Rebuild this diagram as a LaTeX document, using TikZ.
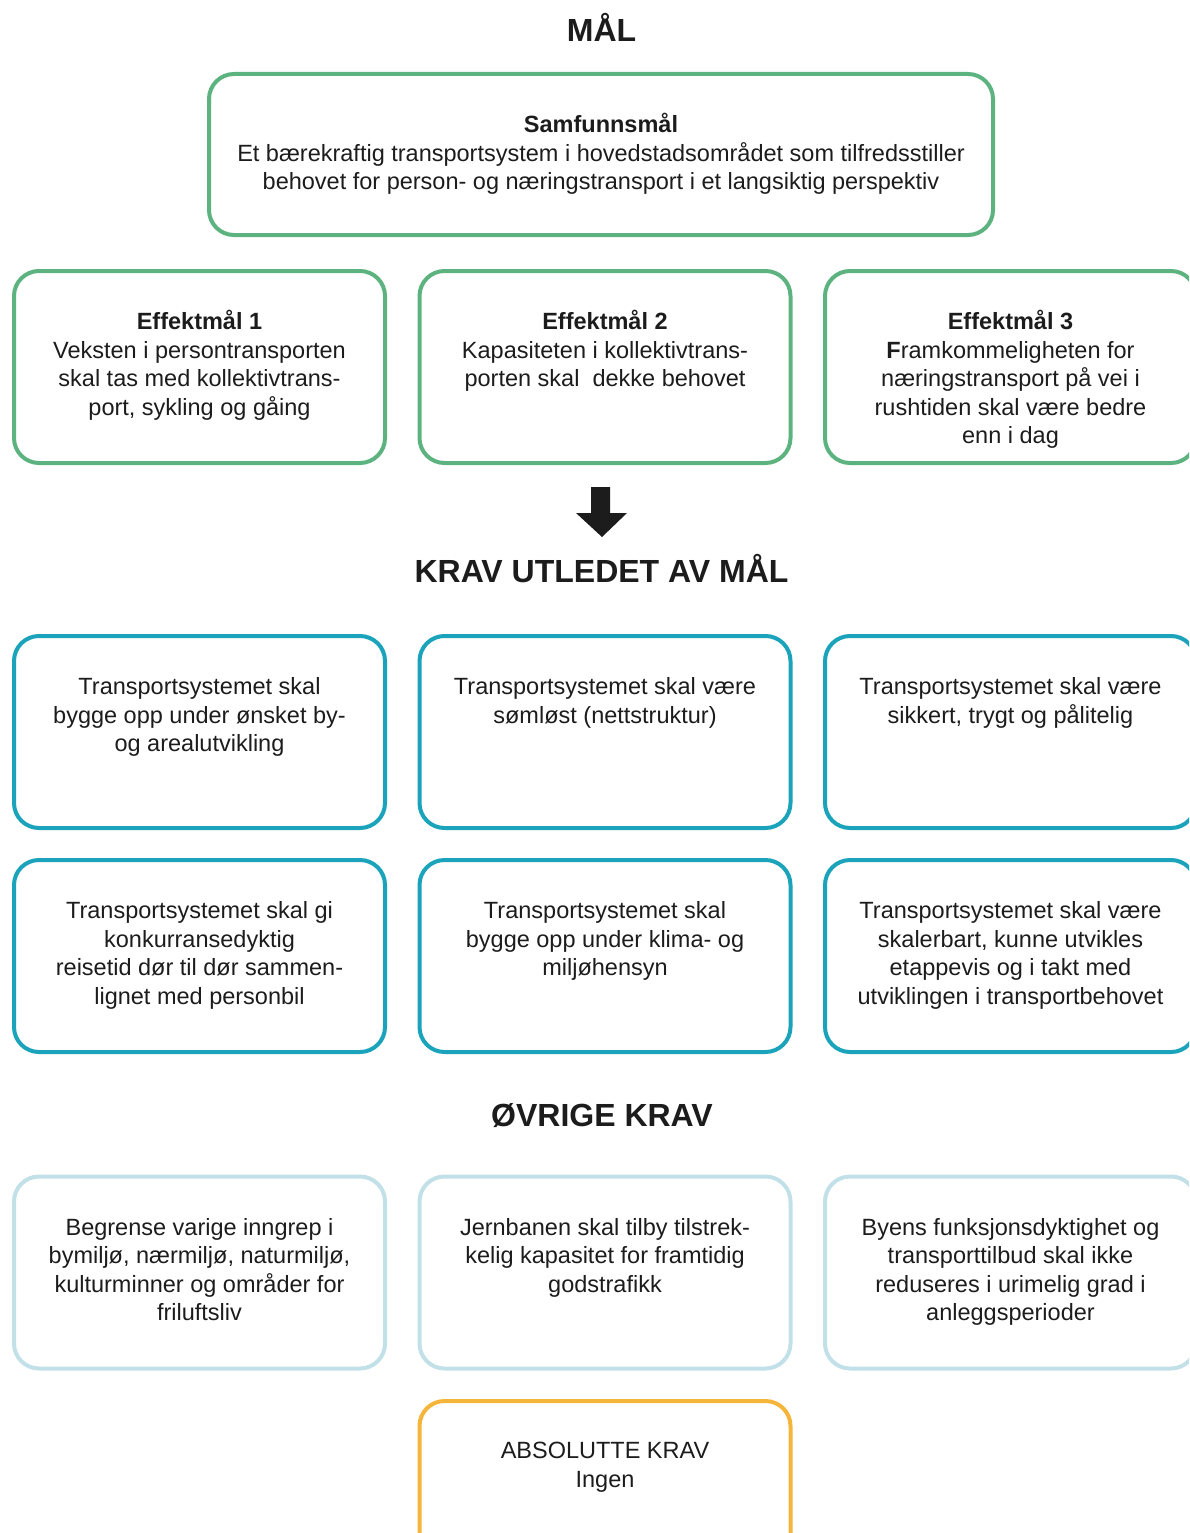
\documentclass[tikz,border=0pt]{standalone}
\usepackage{fontspec}
\setmainfont{Liberation Sans}
\definecolor{goalgreen}{HTML}{5CB37F}
\definecolor{kravteal}{HTML}{1AA3BB}
\definecolor{ovrblue}{HTML}{C2E0E8}
\definecolor{absorange}{HTML}{F5B43A}
\definecolor{ink}{HTML}{1C1C1C}
\begin{document}
\begin{tikzpicture}[x=1pt,y=-1pt,
  box/.style={draw, line width=4pt, rounded corners=25pt, minimum width=371pt, minimum height=192pt, inner sep=0pt, outer sep=0pt},
  goalbox/.style={box, draw=goalgreen},
  kravbox/.style={box, draw=kravteal},
  ovrbox/.style={box, draw=ovrblue},
  absbox/.style={box, draw=absorange},
  txt/.style={anchor=north, align=center, inner sep=0pt, text=ink, font=\fontsize{23.5}{28.5}\selectfont},
  head/.style={anchor=base, inner sep=0pt, text=ink, font=\fontsize{32}{38}\selectfont\bfseries}]
\useasboundingbox (0,0) rectangle (1189,1533);
\path[clip] (0,0) rectangle (1189,1533);

% headings
\node[head] (hmal) at (601.5,42) {MÅL};
\node[head] (hkrav) at (601.5,582.5) {KRAV UTLEDET AV MÅL};
\node[head] (hovr) at (602,1126.5) {ØVRIGE KRAV};

% samfunnsmål
\node[goalbox, minimum width=784pt, minimum height=161pt] (samf) at (601,154.5) {};
\node[txt] (samft) at ([yshift=-38.5pt]samf.north) {\strut\textbf{Samfunnsmål}\\Et bærekraftig transportsystem i hovedstadsområdet som tilfredsstiller\\behovet for person- og næringstransport i et langsiktig perspektiv};

% effektmål
\node[goalbox] (e1) at (199.5,367) {};
\node[goalbox] (e2) at (605,367) {};
\node[goalbox] (e3) at (1010.5,367) {};
\node[txt] (e1t) at ([yshift=-38.5pt]e1.north) {\strut\textbf{Effektmål 1}\\Veksten i persontransporten\\skal tas med kollektivtrans-\\port, sykling og gåing};
\node[txt] (e2t) at ([yshift=-38.5pt]e2.north) {\strut\textbf{Effektmål 2}\\Kapasiteten i kollektivtrans-\\porten skal\ \ dekke behovet};
\node[txt] (e3t) at ([yshift=-38.5pt]e3.north) {\strut\textbf{Effektmål 3}\\\textbf{F}ramkommeligheten for\\næringstransport på vei i\\rushtiden skal være bedre\\enn i dag};

% arrow
\fill[ink] (591,487) -- (610,487) -- (610,513) -- (627,513) -- (602,537) -- (576,513) -- (591,513) -- cycle;

% krav row 1
\node[kravbox] (k1) at (199.5,732) {};
\node[kravbox] (k2) at (605,732) {};
\node[kravbox] (k3) at (1010.5,732) {};
\node[txt] (k1t) at ([yshift=-38.5pt]k1.north) {\strut Transportsystemet skal\\bygge opp under ønsket by-\\og arealutvikling};
\node[txt] (k2t) at ([yshift=-38.5pt]k2.north) {\strut Transportsystemet skal være\\sømløst (nettstruktur)};
\node[txt] (k3t) at ([yshift=-38.5pt]k3.north) {\strut Transportsystemet skal være\\sikkert, trygt og pålitelig};

% krav row 2
\node[kravbox] (k4) at (199.5,956) {};
\node[kravbox] (k5) at (605,956) {};
\node[kravbox] (k6) at (1010.5,956) {};
\node[txt] (k4t) at ([yshift=-38.5pt]k4.north) {\strut Transportsystemet skal gi\\konkurransedyktig\\reisetid dør til dør sammen-\\lignet med personbil};
\node[txt] (k5t) at ([yshift=-38.5pt]k5.north) {\strut Transportsystemet skal\\bygge opp under klima- og\\miljøhensyn};
\node[txt] (k6t) at ([yshift=-38.5pt]k6.north) {\strut Transportsystemet skal være\\skalerbart, kunne utvikles\\etappevis og i takt med\\utviklingen i transportbehovet};

% øvrige krav
\node[ovrbox] (o1) at (199.5,1272.5) {};
\node[ovrbox] (o2) at (605,1272.5) {};
\node[ovrbox] (o3) at (1010.5,1272.5) {};
\node[txt] (o1t) at ([yshift=-38.5pt]o1.north) {\strut Begrense varige inngrep i\\bymiljø, nærmiljø, naturmiljø,\\kulturminner og områder for\\friluftsliv};
\node[txt] (o2t) at ([yshift=-38.5pt]o2.north) {\strut Jernbanen skal tilby tilstrek-\\kelig kapasitet for framtidig\\godstrafikk};
\node[txt] (o3t) at ([yshift=-38.5pt]o3.north) {\strut Byens funksjonsdyktighet og\\transporttilbud skal ikke\\reduseres i urimelig grad i\\anleggsperioder};

% absolutte krav
\node[absbox] (a1) at (605,1497) {};
\node[txt] (a1t) at ([yshift=-37.5pt]a1.north) {\strut ABSOLUTTE KRAV\\Ingen};
\end{tikzpicture}
\end{document}
